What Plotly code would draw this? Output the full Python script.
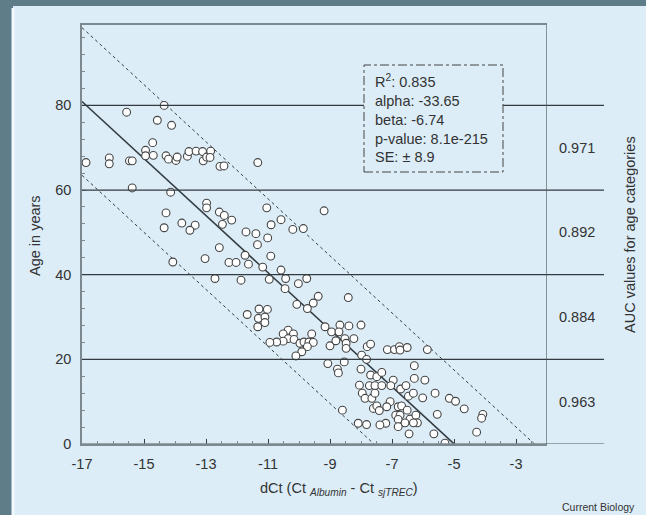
import plotly.graph_objects as go

# ---------------- data ----------------
dct_values = [
    -16.87, -16.12, -16.12, -15.56, -15.47, -15.38, -15.38, -14.95, -14.95, -14.72,
    -14.70, -14.57, -14.35, -14.29, -14.21, -14.11, -13.97, -13.93, -14.14, -13.60,
    -13.55, -13.32, -13.11, -13.09, -12.98, -12.85, -12.87, -12.55, -12.42, -11.33,
    -12.98, -12.98, -14.29, -12.57, -12.41, -12.17, -11.04, -9.19, -13.78, -13.35,
    -13.52, -14.35, -12.47, -11.71, -11.39, -10.90, -10.58, -10.20, -9.86, -11.01,
    -11.34, -12.57, -13.03, -14.07, -12.26, -12.03, -11.74, -11.63, -10.91, -11.17,
    -10.58, -12.71, -11.87, -10.96, -10.43, -10.02, -9.75, -10.45,
    -9.38, -9.54, -10.07, -9.73, -11.67, -11.29, -11.02, -11.31, -11.10, -11.10,
    -11.33, -10.35, -10.51, -10.18, -10.35, -10.51, -10.72, -10.94, -10.16, -9.97,
    -9.84, -9.68, -9.54, -9.59, -9.73, -9.91, -10.10, -9.16, -8.95, -9.00,
    -8.81, -8.68, -8.71, -8.54, -9.07, -8.76, -8.73,
    -8.41, -8.39, -8.00, -8.52, -8.23, -8.48, -8.48, -7.80, -7.69, -7.15,
    -6.92, -6.76, -6.74, -6.51, -5.86, -7.98, -7.82, -8.00, -6.28, -7.69,
    -7.49, -7.33, -6.28, -5.94, -8.05, -7.73, -7.55, -7.33, -6.96, -7.04,
    -6.72, -6.55, -7.96, -7.87, -7.65, -7.55, -6.47, -6.31, -6.01, -5.61,
    -5.15, -4.95, -4.67, -4.07, -4.11, -4.27, -7.06, -7.17, -7.60, -7.49,
    -7.41, -6.80, -6.69, -6.51, -6.88, -6.74, -6.42, -6.23, -6.80, -6.58,
    -6.18, -6.31, -6.80, -6.45, -5.54, -7.20, -7.39, -8.09, -7.82, -5.65,
    -5.29, -8.60,
]
age_values = [
    66.5, 67.6, 66.2, 78.4, 66.9, 66.9, 60.5, 69.4, 68.1, 71.2,
    68.2, 76.5, 80.0, 68.1, 67.3, 75.3, 67.0, 67.8, 59.5, 68.0,
    69.1, 69.2, 69.1, 66.9, 67.8, 69.2, 67.7, 65.6, 65.7, 66.5,
    56.9, 55.8, 54.6, 54.8, 54.0, 52.9, 55.8, 55.1, 52.2, 51.7,
    50.5, 51.1, 51.9, 50.1, 49.7, 51.8, 53.0, 50.7, 50.9, 48.7,
    47.1, 46.4, 43.8, 43.0, 42.9, 42.9, 44.6, 42.5, 44.4, 41.8,
    41.1, 39.1, 38.7, 38.9, 39.1, 37.9, 39.1, 36.7,
    34.9, 33.3, 33.0, 32.0, 30.6, 31.9, 31.8, 29.7, 30.0, 28.7,
    27.7, 26.9, 26.0, 26.0, 24.9, 24.3, 24.1, 24.0, 24.7, 23.8,
    24.1, 24.1, 24.0, 26.0, 23.0, 21.8, 20.8, 27.7, 26.5, 23.2,
    24.4, 28.1, 26.5, 19.4, 19.0, 17.7, 16.8,
    34.6, 27.9, 28.1, 24.9, 24.9, 23.8, 22.6, 23.0, 23.6, 22.3,
    22.3, 23.0, 22.2, 22.8, 22.3, 21.0, 20.0, 17.7, 18.5, 16.3,
    15.9, 16.9, 15.5, 15.1, 13.9, 13.8, 13.8, 13.8, 15.1, 13.8,
    13.0, 13.8, 12.0, 10.8, 10.8, 12.0, 11.3, 12.0, 10.9, 12.0,
    10.8, 10.1, 8.3, 7.0, 6.1, 2.8, 10.0, 8.8, 8.4, 9.0,
    7.9, 8.8, 9.0, 8.0, 6.8, 6.8, 5.9, 6.8, 5.8, 5.0,
    5.0, 5.0, 4.1, 2.4, 7.0, 4.9, 4.5, 4.9, 4.6, 2.4,
    0.2, 8.0,
]

alpha = -33.65
beta = -6.74
se = 8.9
band_factor = 1.96

stats_labels = ["R<sup>2</sup>: 0.835", "alpha: -33.65", "beta: -6.74",
                "p-value: 8.1e-215", "SE: ± 8.9"]

auc_categories_mid = [70, 50, 30, 10]
auc_values = ["0.971", "0.892", "0.884", "0.963"]

x_tick_vals = [-17, -15, -13, -11, -9, -7, -5, -3]
x_tick_labels = ["-17", "-15", "-13", "-11", "-9", "-7", "-5", "-3"]
y_tick_vals = [0, 20, 40, 60, 80]
y_tick_labels = ["0", "20", "40", "60", "80"]
category_bounds = [20, 40, 60, 80]

# ---------------- style / geometry (page pixels) ----------------
PAGE_W, PAGE_H = 646, 515
BODY_OFF = 8                      # default page margin around the plot div
FW, FH = PAGE_W - BODY_OFF, PAGE_H - BODY_OFF
PLOT_L, PLOT_R, PLOT_T, PLOT_B = 82, 547, 25, 444   # plot area in page pixels
ML = PLOT_L - BODY_OFF
MT = PLOT_T - BODY_OFF
MR = PAGE_W - PLOT_R
MB = PAGE_H - PLOT_B

PANEL = "#dcedf8"
OUTER = "#5f7d88"
TXT = "#333333"
AXC = "#7d8990"
DARK = "#333b40"
FONT = "Liberation Sans"

XR = [-17, -2]
YR = [0, 99]
pw = PLOT_R - PLOT_L
ph = PLOT_B - PLOT_T


def px_to_paper_x(px):
    return (px - PLOT_L) / pw


def px_to_paper_y(py):
    return (PLOT_B - py) / ph


def px_to_x(px):
    return XR[0] + (px - PLOT_L) / pw * (XR[1] - XR[0])


def px_to_y(py):
    return YR[0] + (PLOT_B - py) / ph * (YR[1] - YR[0])


line_x = [XR[0], XR[1]]
fit_y = [alpha + beta * v for v in line_x]
up_y = [alpha + band_factor * se + beta * v for v in line_x]
lo_y = [alpha - band_factor * se + beta * v for v in line_x]

fig = go.Figure()

fig.add_trace(go.Scatter(x=line_x, y=up_y, mode="lines",
                         line=dict(color=DARK, width=1, dash="dot"),
                         hoverinfo="skip", showlegend=False))
fig.add_trace(go.Scatter(x=line_x, y=lo_y, mode="lines",
                         line=dict(color=DARK, width=1, dash="dot"),
                         hoverinfo="skip", showlegend=False))
fig.add_trace(go.Scatter(x=line_x, y=fit_y, mode="lines",
                         line=dict(color=DARK, width=1.6),
                         hoverinfo="skip", showlegend=False))
fig.add_trace(go.Scatter(x=dct_values, y=age_values, mode="markers",
                         marker=dict(symbol="circle", size=7.8, color="white",
                                     line=dict(color="#444444", width=1.1)),
                         showlegend=False))

shapes = []
# light panel
shapes.append(dict(type="rect", xref="paper", yref="paper",
                   x0=px_to_paper_x(13), x1=px_to_paper_x(PAGE_W + 5),
                   y0=px_to_paper_y(PAGE_H + 5), y1=px_to_paper_y(6),
                   fillcolor=PANEL, line=dict(color="#f2f8fc", width=3),
                   layer="below"))
ext = px_to_paper_x(604)
for b in category_bounds:
    shapes.append(dict(type="line", xref="paper", yref="y", x0=0, x1=ext,
                       y0=b, y1=b, line=dict(color=DARK, width=1.2)))
shapes.append(dict(type="line", xref="paper", yref="y", x0=0, x1=ext,
                   y0=0, y1=0, line=dict(color=AXC, width=1.6)))
shapes.append(dict(type="line", xref="x", yref="paper", x0=XR[1], x1=XR[1],
                   y0=0, y1=1, line=dict(color="#4a555c", width=1.2)))

bx0, bx1 = px_to_x(364), px_to_x(503)
by0, by1 = px_to_y(172), px_to_y(65)
shapes.append(dict(type="rect", xref="x", yref="y", x0=bx0, x1=bx1, y0=by0, y1=by1,
                   fillcolor=PANEL, line=dict(color="#444444", width=1, dash="dashdot")))

annotations = []
annotations.append(dict(xref="x", yref="y", x=px_to_x(373), y=(by0 + by1) / 2,
                        xanchor="left", yanchor="middle",
                        text="<br>".join(stats_labels), align="left", showarrow=False,
                        font=dict(family=FONT, size=14.5, color=TXT)))
for m, v in zip(auc_categories_mid, auc_values):
    annotations.append(dict(xref="paper", yref="y", x=px_to_paper_x(577), y=m,
                            text=v, showarrow=False, xanchor="center", yanchor="middle",
                            font=dict(family=FONT, size=14.5, color=TXT)))
annotations.append(dict(xref="paper", yref="paper", x=px_to_paper_x(630),
                        y=px_to_paper_y(235), text="AUC values for age categories",
                        textangle=-90, showarrow=False, xanchor="center", yanchor="middle",
                        font=dict(family=FONT, size=14.5, color=TXT)))
annotations.append(dict(xref="paper", yref="paper", x=px_to_paper_x(35),
                        y=px_to_paper_y(236), text="Age in years",
                        textangle=-90, showarrow=False, xanchor="center", yanchor="middle",
                        font=dict(family=FONT, size=14.5, color=TXT)))
annotations.append(dict(xref="paper", yref="paper", x=px_to_paper_x(339),
                        y=px_to_paper_y(489),
                        text="dCt (Ct <sub><i>Albumin</i></sub> - Ct <sub><i>sjTREC</i></sub>)",
                        showarrow=False, xanchor="center", yanchor="middle",
                        font=dict(family=FONT, size=14.5, color=TXT)))
annotations.append(dict(xref="paper", yref="paper", x=px_to_paper_x(637),
                        y=px_to_paper_y(507), text="Current Biology",
                        showarrow=False, xanchor="right", yanchor="middle",
                        font=dict(family=FONT, size=10.5, color=TXT)))

fig.update_layout(
    width=FW, height=FH,
    margin=dict(l=ML, r=MR, t=MT, b=MB, pad=0),
    paper_bgcolor=OUTER,
    plot_bgcolor="rgba(0,0,0,0)",
    shapes=shapes,
    annotations=annotations,
    showlegend=False,
    xaxis=dict(range=XR, showgrid=False, zeroline=False,
               showline=True, linecolor=AXC, linewidth=1.6, mirror=True,
               tickmode="array", tickvals=x_tick_vals, ticktext=x_tick_labels,
               ticks="inside", ticklen=5, tickcolor=DARK, tickwidth=1,
               ticklabelstandoff=6,
               tickfont=dict(family=FONT, size=14.5, color=TXT),
               minor=dict(tickmode="linear", tick0=-17, dtick=0.5, ticks="inside",
                          ticklen=3, tickcolor=AXC, showgrid=False)),
    yaxis=dict(range=YR, showgrid=False, zeroline=False,
               showline=True, linecolor=AXC, linewidth=1.6,
               tickmode="array", tickvals=y_tick_vals, ticktext=y_tick_labels,
               ticks="inside", ticklen=4, tickcolor=AXC,
               ticklabelstandoff=6,
               tickfont=dict(family=FONT, size=14.5, color=TXT),
               minor=dict(tickmode="linear", tick0=0, dtick=4, ticks="inside",
                          ticklen=3, tickcolor=AXC, showgrid=False)),
)

page_bg = ("linear-gradient(to right, " + OUTER + " 13px, rgba(0,0,0,0) 13px), "
           "linear-gradient(to bottom, " + OUTER + " 6px, " + PANEL + " 6px)")
page_script = (
    "var bg='" + page_bg + "';"
    "document.documentElement.style.background=bg;"
    "document.body.style.background=bg;"
    "document.documentElement.style.overflow='hidden';"
    "document.body.style.overflow='hidden';"
)

fig.write_html("out.html", post_script=page_script)
